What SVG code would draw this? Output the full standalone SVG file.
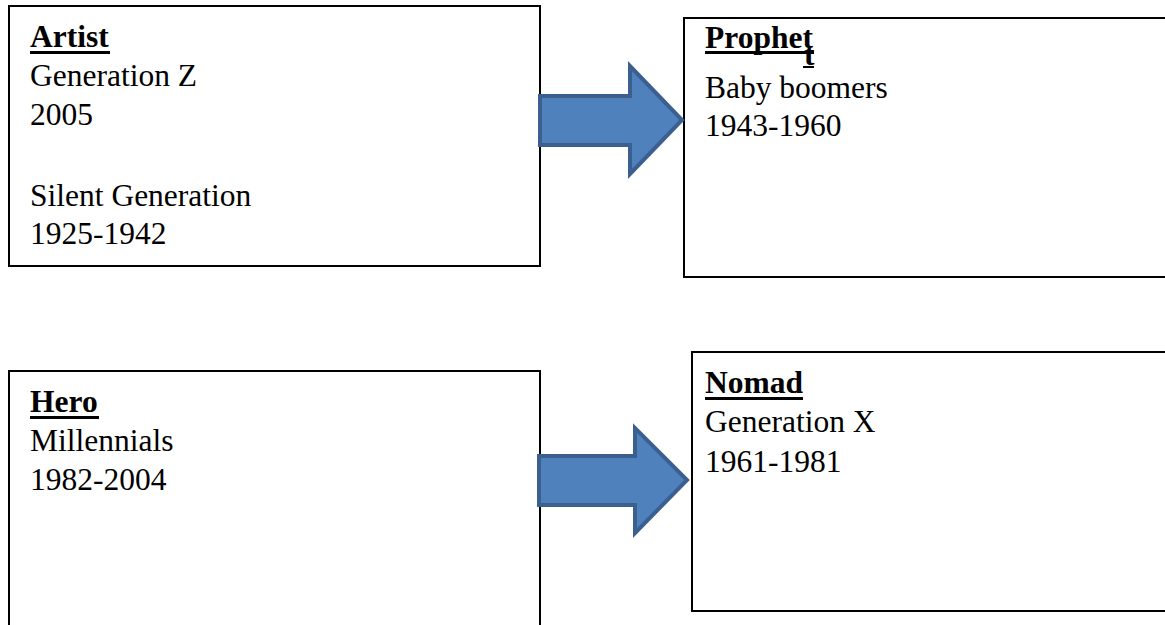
<svg xmlns="http://www.w3.org/2000/svg" width="1165" height="625" viewBox="0 0 1165 625">
<style>
.box{fill:#fff;stroke:#000;stroke-width:2}
.t{font-family:"Liberation Serif","Times New Roman",serif;font-size:31.5px;fill:#000}
.h{font-family:"Liberation Serif","Times New Roman",serif;font-size:31.5px;font-weight:bold;fill:#000}
.ul{fill:#000}
.arrow{fill:#4f81bd;stroke:#3b6090;stroke-width:4;stroke-linejoin:miter}
</style>
<rect width="1165" height="625" fill="#fff"/>
<g id="artist">
<rect class="box" x="9" y="6" width="531" height="260"/>
<text class="h" x="30" y="47">Artist</text>
<rect class="ul" x="30" y="51" width="80" height="3"/>
<text class="t" x="30" y="86">Generation Z</text>
<text class="t" x="30" y="125">2005</text>
<text class="t" x="30" y="206">Silent Generation</text>
<text class="t" x="30" y="244">1925-1942</text>
</g>
<g id="prophet">
<rect class="box" x="684" y="18" width="500" height="259"/>
<text class="h" x="705" y="48">Prophet</text>
<rect class="ul" x="705" y="51" width="109" height="3"/>
<text class="h" x="804" y="65">t</text>
<rect class="ul" x="803" y="66" width="11" height="2"/>
<text class="t" x="705" y="98">Baby boomers</text>
<text class="t" x="705" y="136">1943-1960</text>
</g>
<g id="hero">
<rect class="box" x="9" y="371" width="531" height="270"/>
<text class="h" x="30" y="412">Hero</text>
<rect class="ul" x="30" y="416" width="69" height="3"/>
<text class="t" x="30" y="451">Millennials</text>
<text class="t" x="30" y="490">1982-2004</text>
</g>
<g id="nomad">
<rect class="box" x="692" y="352" width="500" height="259"/>
<text class="h" x="705" y="393">Nomad</text>
<rect class="ul" x="705" y="397" width="98" height="3"/>
<text class="t" x="705" y="432">Generation X</text>
<text class="t" x="705" y="472">1961-1981</text>
</g>
<g id="connectors">
<polygon class="arrow" points="540,96 630,96 630,66 682,120 630,174 630,145 540,145"/>
<polygon class="arrow" points="539,456 635,456 635,428 687,480 635,533 635,505 539,505"/>
</g>
</svg>
